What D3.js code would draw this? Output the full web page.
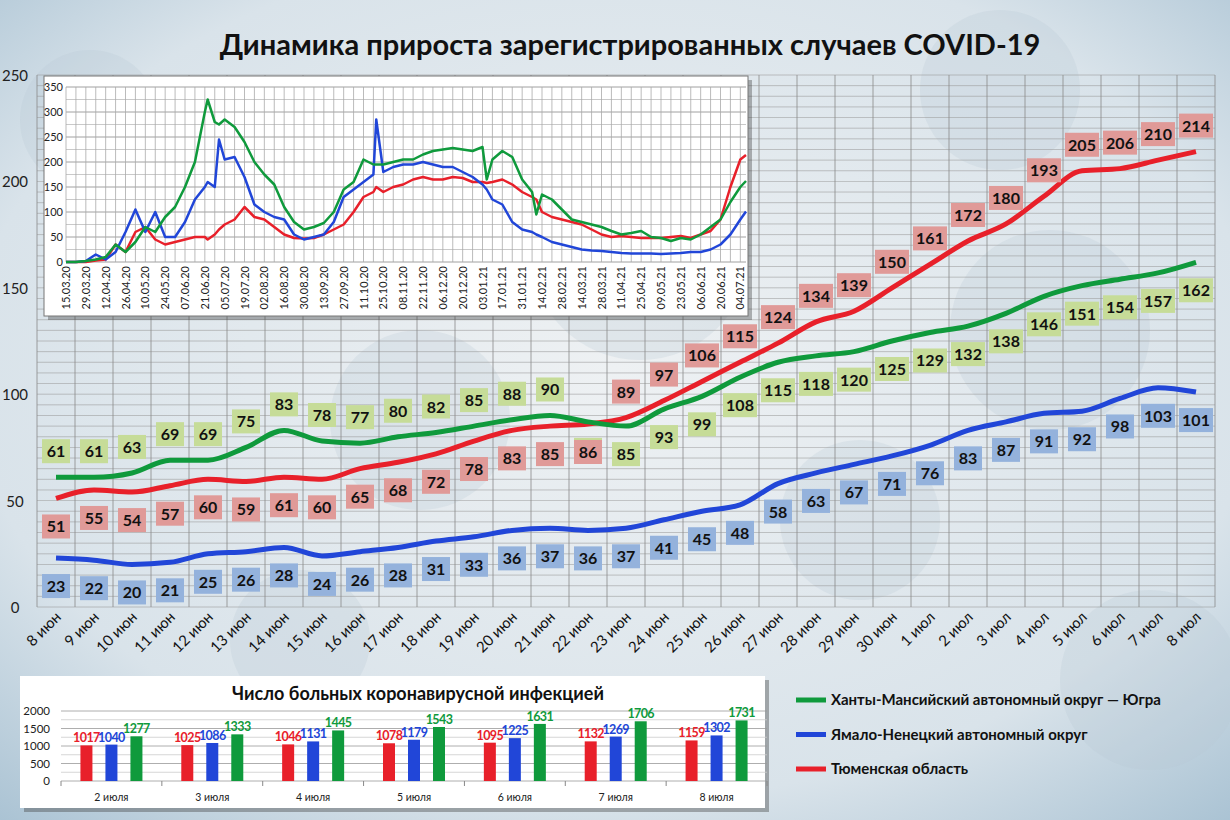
<!DOCTYPE html>
<html><head><meta charset="utf-8">
<script src="https://cdn.jsdelivr.net/npm/d3@7"></script>
<style>body{margin:0;overflow:hidden}text{font-family:Lato,"Open Sans",sans-serif}</style>
</head><body>
<script>
// main chart data
var days = ["8 июн","9 июн","10 июн","11 июн","12 июн","13 июн","14 июн","15 июн","16 июн","17 июн","18 июн","19 июн","20 июн","21 июн","22 июн","23 июн","24 июн","25 июн","26 июн","27 июн","28 июн","29 июн","30 июн","1 июл","2 июл","3 июл","4 июл","5 июл","6 июл","7 июл","8 июл"];
var hmao = [61,61,63,69,69,75,83,78,77,80,82,85,88,90,87,85,93,99,108,115,118,120,125,129,132,138,146,151,154,157,162];
var yanao = [23,22,20,21,25,26,28,24,26,28,31,33,36,37,36,37,41,45,48,58,63,67,71,76,83,87,91,92,98,103,101];
var tyumen = [51,55,54,57,60,59,61,60,65,68,72,78,83,85,86,89,97,106,115,124,134,139,150,161,172,180,193,205,206,210,214];

// inset data
var insetDates = ["15.03.20","22.03.20","29.03.20","05.04.20","12.04.20","19.04.20","26.04.20","03.05.20","10.05.20","17.05.20","24.05.20","31.05.20","07.06.20","14.06.20","21.06.20","23.06.20","28.06.20","01.07.20","05.07.20","12.07.20","19.07.20","26.07.20","02.08.20","09.08.20","16.08.20","23.08.20","30.08.20","06.09.20","13.09.20","20.09.20","27.09.20","04.10.20","11.10.20","18.10.20","20.10.20","25.10.20","01.11.20","08.11.20","15.11.20","22.11.20","29.11.20","06.12.20","13.12.20","20.12.20","27.12.20","03.01.21","06.01.21","10.01.21","17.01.21","24.01.21","31.01.21","07.02.21","10.02.21","14.02.21","21.02.21","28.02.21","07.03.21","14.03.21","21.03.21","28.03.21","04.04.21","11.04.21","18.04.21","25.04.21","02.05.21","09.05.21","16.05.21","23.05.21","30.05.21","06.06.21","13.06.21","20.06.21","27.06.21","04.07.21","08.07.21"];
var insetHmao = [0,0,2,5,10,35,20,40,70,60,90,110,150,200,300,325,280,275,285,270,240,200,175,155,110,80,65,70,78,100,145,160,205,195,195,195,200,205,205,215,222,225,228,225,222,230,165,205,222,210,165,140,95,135,125,105,85,80,75,70,62,55,58,62,50,48,42,48,45,55,70,85,120,150,162];
var insetYanao = [0,0,2,15,5,20,60,105,60,100,50,50,80,125,150,160,150,245,205,210,170,115,100,90,85,55,45,50,55,80,130,145,160,175,285,180,190,195,195,200,195,190,190,180,170,155,145,125,115,80,65,60,55,50,40,35,30,25,23,22,20,18,17,17,17,16,17,18,20,20,25,35,55,85,101];
var insetTyumen = [0,0,0,3,5,35,20,60,70,45,35,40,45,50,50,45,55,65,75,85,110,90,85,70,55,48,47,48,55,65,75,100,130,140,150,140,150,155,165,170,165,165,170,168,160,160,158,160,165,155,140,130,125,100,90,85,80,75,65,55,50,52,50,48,48,48,50,52,48,55,62,85,150,205,214];
var insetTicks = ["15.03.20","29.03.20","12.04.20","26.04.20","10.05.20","24.05.20","07.06.20","21.06.20","05.07.20","19.07.20","02.08.20","16.08.20","30.08.20","13.09.20","27.09.20","11.10.20","25.10.20","08.11.20","22.11.20","06.12.20","20.12.20","03.01.21","17.01.21","31.01.21","14.02.21","28.02.21","14.03.21","28.03.21","11.04.21","25.04.21","09.05.21","23.05.21","06.06.21","20.06.21","04.07.21"];

// bar chart data
var barDays = ["2 июля","3 июля","4 июля","5 июля","6 июля","7 июля","8 июля"];
var barTyumen = [1017,1025,1046,1078,1095,1132,1159];
var barYanao = [1040,1086,1131,1179,1225,1269,1302];
var barHmao = [1277,1333,1445,1543,1631,1706,1731];

var names = ["Ханты-Мансийский автономный округ — Югра","Ямало-Ненецкий автономный округ","Тюменская область"];
var colors = {g:"#0f9a3c", b:"#2146d8", r:"#e8202a"};
var labelFill = {g:"#c6dc98", b:"#94b2dc", r:"#e09a98"};

var W = 1230, H = 820;
var svg = d3.select("body").append("svg").attr("width",W).attr("height",H);

// background
var defs = svg.append("defs");
var rg = defs.append("radialGradient").attr("id","bg").attr("cx","50%").attr("cy","45%").attr("r","75%");
rg.append("stop").attr("offset","0%").attr("stop-color","#eef1f3");
rg.append("stop").attr("offset","70%").attr("stop-color","#d9e3ea");
rg.append("stop").attr("offset","100%").attr("stop-color","#a9c2d3");
svg.append("rect").attr("width",W).attr("height",H).attr("fill","url(#bg)");
// faint virus blobs
var blobs = [[90,120,70],[420,420,90],[640,250,110],[1050,330,100],[860,520,80],[1150,680,90],[300,640,70],[1000,90,80]];
svg.selectAll(".blob").data(blobs).enter().append("circle")
  .attr("cx",d=>d[0]).attr("cy",d=>d[1]).attr("r",d=>d[2])
  .attr("fill","#b9c7d2").attr("opacity",0.25);

svg.append("text").attr("x",630).attr("y",55).attr("text-anchor","middle")
  .attr("font-size",29).attr("font-weight","bold").attr("fill","#111")
  .text("Динамика прироста зарегистрированных случаев COVID-19");

// ---- main chart
var x = d3.scaleBand().domain(days).range([37,1215]);
var y = d3.scaleLinear().domain([0,250]).range([607,75]);
var main = svg.append("g");

main.selectAll(".hg").data(d3.range(0,251,5)).enter().append("line")
  .attr("x1",37).attr("x2",1215).attr("y1",d=>y(d)).attr("y2",d=>y(d))
  .attr("stroke","#9a9a9a").attr("stroke-width",0.8).attr("opacity",0.7);
main.selectAll(".vg").data(days.concat(["end"])).enter().append("line")
  .attr("x1",(d,i)=>37+i*x.bandwidth()).attr("x2",(d,i)=>37+i*x.bandwidth())
  .attr("y1",75).attr("y2",607).attr("stroke","#8a8a8a").attr("stroke-width",1).attr("opacity",0.8);

main.selectAll(".yt").data([0,50,100,150,200,250]).enter().append("text")
  .attr("x",15).attr("y",d=>y(d)+6).attr("text-anchor","middle")
  .attr("font-size",15).attr("fill","#222").text(d=>d);
main.selectAll(".xt").data(days).enter().append("text")
  .attr("transform",d=>"translate("+(x(d)+x.bandwidth()/2+6)+",618) rotate(-45)")
  .attr("text-anchor","end").attr("font-size",15).attr("fill","#111").text(d=>d);

var line = d3.line().x((d,i)=>x(days[i])+x.bandwidth()/2).y(d=>y(d)).curve(d3.curveMonotoneX);
[[tyumen,"r"],[yanao,"b"],[hmao,"g"]].forEach(function(s){
  main.append("path").attr("d",line(s[0])).attr("fill","none")
    .attr("stroke",colors[s[1]]).attr("stroke-width",5).attr("stroke-linejoin","round");
});

function labels(vals,key,above){
  var g = main.append("g");
  vals.forEach(function(v,i){
    var cx = x(days[i])+x.bandwidth()/2, cy = y(v)+(above(i)?-26:28);
    var w = v>=100?34:28;
    g.append("rect").attr("x",cx-w/2).attr("y",cy-12).attr("width",w).attr("height",24).attr("fill",labelFill[key]);
    g.append("text").attr("x",cx).attr("y",cy+6).attr("text-anchor","middle")
      .attr("font-size",16).attr("font-weight","bold").attr("fill","#111").text(v);
  });
}
labels(hmao,"g",i=>i<14);
labels(tyumen,"r",i=>i>=15);
labels(yanao,"b",i=>false);

// ---- inset
var ins = svg.append("g");
ins.append("rect").attr("x",48).attr("y",80).attr("width",704).attr("height",240).attr("fill","#333").attr("opacity",0.35);
ins.append("rect").attr("x",44).attr("y",76).attr("width",704).attr("height",240).attr("fill","#fff").attr("stroke","#777");
var pd = d3.timeParse("%d.%m.%y");
var xi = d3.scaleTime().domain([pd("15.03.20"),pd("08.07.21")]).range([66,746]);
var yi = d3.scaleLinear().domain([0,350]).range([262,87]);
ins.selectAll(".ihg").data(d3.range(0,351,25)).enter().append("line")
  .attr("x1",66).attr("x2",746).attr("y1",d=>yi(d)).attr("y2",d=>yi(d))
  .attr("stroke",d=>d%50==0?"#888":"#bbb").attr("stroke-width",0.8);
ins.selectAll(".ivg").data(d3.timeWeek.range(pd("15.03.20"),pd("09.07.21"))).enter().append("line")
  .attr("x1",d=>xi(d)).attr("x2",d=>xi(d)).attr("y1",87).attr("y2",262)
  .attr("stroke","#aaa").attr("stroke-width",0.8);
ins.selectAll(".iyt").data(d3.range(0,351,50)).enter().append("text")
  .attr("x",63).attr("y",d=>yi(d)+4).attr("text-anchor","end").attr("font-size",11).attr("fill","#222").text(d=>d);
ins.selectAll(".ixt").data(insetTicks).enter().append("text")
  .attr("transform",d=>"translate("+(xi(pd(d))+4)+",266) rotate(-90)")
  .attr("text-anchor","end").attr("font-size",11).attr("fill","#222").text(d=>d);
var iline = d3.line().x((d,i)=>xi(pd(insetDates[i]))).y(d=>yi(d));
[[insetTyumen,"r"],[insetYanao,"b"],[insetHmao,"g"]].forEach(function(s){
  ins.append("path").attr("d",iline(s[0])).attr("fill","none")
    .attr("stroke",colors[s[1]]).attr("stroke-width",2.5).attr("stroke-linejoin","round");
});

// ---- bar chart
var bc = svg.append("g");
bc.append("rect").attr("x",24).attr("y",680).attr("width",745).attr("height",132).attr("fill","#444").attr("opacity",0.4);
bc.append("rect").attr("x",20).attr("y",676).attr("width",745).attr("height",132).attr("fill","#fff");
bc.append("text").attr("x",418).attr("y",700).attr("text-anchor","middle").attr("font-size",18).attr("font-weight","bold")
  .attr("fill","#111").text("Число больных  коронавирусной  инфекцией");
var xb = d3.scaleBand().domain(barDays).range([61,767]);
var yb = d3.scaleLinear().domain([0,2000]).range([781,711]);
bc.selectAll(".bhg").data(d3.range(0,2001,250)).enter().append("line")
  .attr("x1",61).attr("x2",767).attr("y1",d=>yb(d)).attr("y2",d=>yb(d))
  .attr("stroke",d=>d%500==0?"#999":"#ccc").attr("stroke-width",0.8);
bc.selectAll(".byt").data(d3.range(0,2001,500)).enter().append("text")
  .attr("x",50).attr("y",d=>yb(d)+4).attr("text-anchor","end").attr("font-size",11.5).attr("fill","#222").text(d=>d);
bc.selectAll(".bxt").data(barDays).enter().append("text")
  .attr("x",d=>xb(d)+xb.bandwidth()/2).attr("y",801).attr("text-anchor","middle").attr("font-size",10.5).attr("fill","#222").text(d=>d);
bc.selectAll(".btk").data(barDays.concat(["e"])).enter().append("line")
  .attr("x1",(d,i)=>61+i*xb.bandwidth()).attr("x2",(d,i)=>61+i*xb.bandwidth()).attr("y1",781).attr("y2",786).attr("stroke","#888");
[[barTyumen,"r",-25],[barYanao,"b",0],[barHmao,"g",25]].forEach(function(s){
  s[0].forEach(function(v,i){
    var cx = xb(barDays[i])+xb.bandwidth()/2+s[2];
    bc.append("rect").attr("x",cx-6).attr("y",yb(v)).attr("width",12).attr("height",781-yb(v)).attr("fill",colors[s[1]]);
    bc.append("text").attr("x",cx).attr("y",yb(v)-3).attr("text-anchor","middle").attr("font-size",12.5)
      .attr("letter-spacing",-0.6).attr("font-weight","bold").attr("fill",colors[s[1]]).text(v);
  });
});

// ---- legend
var lg = svg.append("g");
[["g",0],["b",1],["r",2]].forEach(function(s,i){
  var yy = 700+i*34.5;
  lg.append("line").attr("x1",796).attr("x2",826).attr("y1",yy).attr("y2",yy).attr("stroke",colors[s[0]]).attr("stroke-width",5);
  lg.append("text").attr("x",831).attr("y",yy+5).attr("font-size",15).attr("font-weight","bold").attr("fill","#111").text(names[i]);
});
</script>
</body></html>
